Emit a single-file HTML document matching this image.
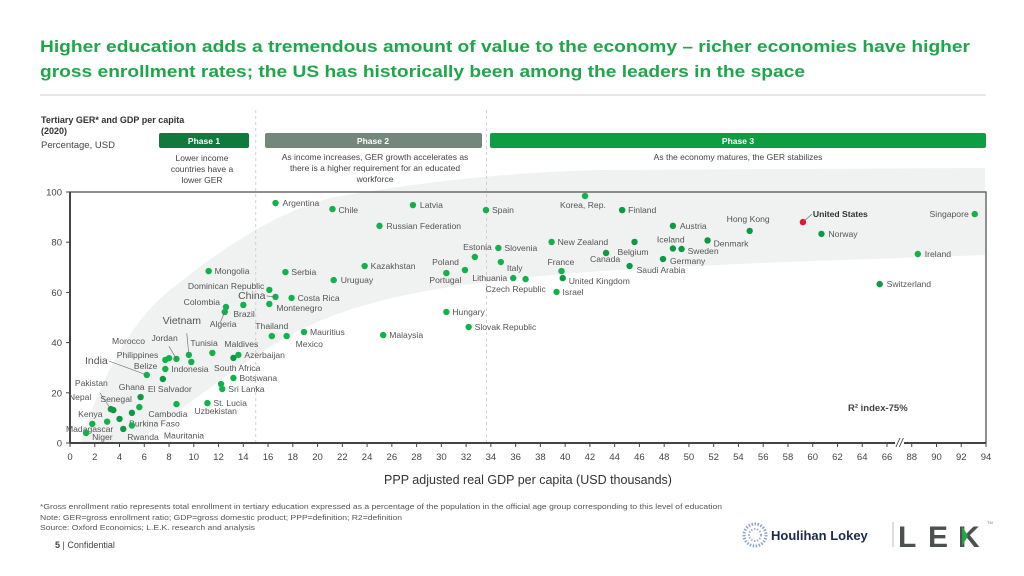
<!DOCTYPE html>
<html><head><meta charset="utf-8">
<style>
html,body{margin:0;padding:0;background:#fff;}
svg{display:block;font-family:"Liberation Sans",Arial,sans-serif;}
</style></head>
<body>
<svg id="chart" width="1024" height="576" viewBox="0 0 1024 576" xmlns="http://www.w3.org/2000/svg">
  <text x="40" y="52" font-size="16.5" font-weight="bold" fill="#1ea64b" textLength="930" lengthAdjust="spacingAndGlyphs">Higher education adds a tremendous amount of value to the economy – richer economies have higher</text>
  <text x="40" y="77" font-size="16.5" font-weight="bold" fill="#1ea64b" textLength="765" lengthAdjust="spacingAndGlyphs">gross enrollment rates; the US has historically been among the leaders in the space</text>
  <line x1="40" y1="95" x2="986" y2="95" stroke="#cfcfcf" stroke-width="1"/>

  <text x="41" y="123" font-size="9" font-weight="bold" fill="#333">Tertiary GER* and GDP per capita</text>
  <text x="41" y="134" font-size="9" font-weight="bold" fill="#333">(2020)</text>
  <text x="41" y="148" font-size="9.5" fill="#444">Percentage, USD</text>

  <g>
    <rect x="159" y="133" width="90" height="15" rx="2" fill="#0e7a3c"/>
    <text x="204" y="144" font-size="8.5" font-weight="bold" fill="#fff" text-anchor="middle">Phase 1</text>
  </g>
  <g>
    <rect x="265" y="133" width="217" height="15" rx="2" fill="#74877b"/>
    <text x="373" y="144" font-size="8.5" font-weight="bold" fill="#fff" text-anchor="middle">Phase 2</text>
  </g>
  <g>
    <rect x="490" y="133" width="496" height="15" rx="2" fill="#0f9d43"/>
    <text x="738" y="144" font-size="8.5" font-weight="bold" fill="#fff" text-anchor="middle">Phase 3</text>
  </g>
  <g font-size="8.5" fill="#444" text-anchor="middle">
    <text x="202" y="161">Lower income</text>
    <text x="202" y="172">countries have a</text>
    <text x="202" y="183">lower GER</text>
    <text x="375" y="160">As income increases, GER growth accelerates as</text>
    <text x="375" y="171">there is a higher requirement for an educated</text>
    <text x="375" y="182">workforce</text>
    <text x="738" y="160">As the economy matures, the GER stabilizes</text>
  </g>

  <path d="M80,443 C95,400 120,330 170,290 C220,250 270,215 330,198 C430,180 520,172 600,170 L985,168 L985,255 C800,262 650,265 520,278 C430,288 360,300 300,330 C240,360 170,420 135,443 Z" fill="#f0f1f1"/>

  <line x1="255.7" y1="110" x2="255.7" y2="443" stroke="#cfd3d3" stroke-dasharray="3,3"/>
  <line x1="486.5" y1="110" x2="486.5" y2="443" stroke="#cfd3d3" stroke-dasharray="3,3"/>

  <g id="axes"></g>
  <g id="marks"></g>

  <text x="848" y="411" font-size="9.5" font-weight="bold" fill="#444">R² index-75%</text>
  <text x="528" y="484" font-size="12.5" fill="#333" text-anchor="middle">PPP adjusted real GDP per capita (USD thousands)</text>

  <g font-size="7.5" fill="#555">
    <text x="40" y="509" textLength="682" lengthAdjust="spacingAndGlyphs">*Gross enrollment ratio represents total enrollment in tertiary education expressed as a percentage of the population in the official age group corresponding to this level of education</text>
    <text x="40" y="520" textLength="362" lengthAdjust="spacingAndGlyphs">Note: GER=gross enrollment ratio; GDP=gross domestic product; PPP=definition; R2=definition</text>
    <text x="40" y="530" textLength="215" lengthAdjust="spacingAndGlyphs">Source: Oxford Economics; L.E.K. research and analysis</text>
  </g>
  <text x="55" y="548" font-size="9" fill="#444"><tspan font-weight="bold">5</tspan> | Confidential</text>

  <g>
    <circle cx="755" cy="535" r="11" fill="none" stroke="#8ea4c8" stroke-width="3" stroke-dasharray="1.5,1.5"/>
    <circle cx="755" cy="535" r="6" fill="none" stroke="#9fb2d2" stroke-width="2" stroke-dasharray="1.5,1.5"/>
    <text x="771" y="540" font-size="13" font-weight="bold" fill="#1b2a4a">Houlihan Lokey</text>
  </g>
  <line x1="893" y1="522" x2="893" y2="547" stroke="#bbb"/>
  <g>
    <text x="898" y="547" font-size="30" font-weight="bold" fill="#4d5050">L</text>
    <text x="928" y="547" font-size="30" font-weight="bold" fill="#4d5050">E</text>
    <text x="958" y="547" font-size="30" font-weight="bold" fill="#4d5050">K</text>
    <polygon points="962,526 968,536 962,546" fill="#1fa64b"/>
    <text x="987" y="524" font-size="4" fill="#777">TM</text>
  </g>
</svg>
<script>
const xTicks = [0,2,4,6,8,10,12,14,16,18,20,22,24,26,28,30,32,34,36,38,40,42,44,46,48,50,52,54,56,58,60,62,64,66,88,90,92,94];
const yTicks = [0,20,40,60,80,100];
const countries = ["Argentina","Chile","Latvia","Spain","Russian Federation","Korea, Rep.","Finland","Austria","Hong Kong","United States","Norway","Singapore","Ireland","Switzerland","Iceland","Sweden","Denmark","Germany","Belgium","Canada","Saudi Arabia","France","United Kingdom","Israel","New Zealand","Slovenia","Estonia","Italy","Poland","Portugal","Lithuania","Czech Republic","Kazakhstan","Hungary","Slovak Republic","Malaysia","Uruguay","Mongolia","Serbia","Dominican Republic","China","Costa Rica","Montenegro","Colombia","Brazil","Algeria","Thailand","Mexico","Mauritius","Vietnam","Tunisia","Maldives","Azerbaijan","Jordan","Morocco","Philippines","Indonesia","Belize","El Salvador","India","South Africa","Botswana","Sri Lanka","Ghana","St. Lucia","Uzbekistan","Cambodia","Senegal","Pakistan","Nepal","Kenya","Burkina Faso","Madagascar","Niger","Rwanda","Mauritania"];
const gdp = [16.6,21.2,27.7,33.6,25.0,41.6,44.6,48.7,54.9,59.2,60.7,93.1,88.5,65.4,48.7,49.4,51.5,47.9,45.6,43.3,45.2,39.7,39.8,39.3,38.9,34.6,32.7,34.8,31.9,30.4,35.8,36.8,23.8,30.4,32.2,25.3,21.3,11.2,17.4,16.1,16.6,17.9,16.1,12.6,14.0,12.5,16.3,17.5,18.9,9.6,11.5,13.2,13.6,8.6,8.0,7.7,9.8,7.7,7.5,6.2,12.2,13.2,12.3,5.7,11.1,8.6,5.6,5.0,3.3,3.5,4.0,3.0,1.8,1.3,4.3,5.0];
const ger = [95.6,93.2,94.8,92.8,86.5,98.4,92.8,86.5,84.5,88.0,83.3,91.2,75.3,63.3,77.5,77.3,80.7,73.3,80.1,75.7,70.5,68.5,65.7,60.2,80.1,77.7,74.1,72.1,68.9,67.7,65.7,65.3,70.5,52.2,46.2,43.0,64.9,68.5,68.1,61.0,58.2,57.8,55.4,54.2,55.0,52.2,42.6,42.6,44.2,35.1,35.9,33.9,35.1,33.5,33.8,33.1,32.3,29.5,25.5,27.1,23.5,25.9,21.5,18.3,15.9,15.5,14.3,12.0,13.5,13.1,9.6,8.5,7.6,4.0,5.6,7.0];
// label styling (offsets in px from the dot, anchor)
const labelDx = [7,6,7,6,7,-25,6,7,-23,10,7,-6,7,7,-16,6,6,7,-17,-16,7,-14,6,6,6,6,17,6,-6,-17,-6,-40,6,6,6,6,7,6,6,-5,-10,6,7,-6,-10,-15,0,9,6,-7,-22,-9,6,-25,-57,-7,-20,-8,-15,-39,-7,6,6,4,6,18,9,0,-36,-22,-17,22,21,6,4,32];
const labelDy = [3,4,3,3,3,12,3,3,-9,-5,3,3,3,3,-6,5,6,5,13,9,7,-6,6,3,3,3,-7,9,-5,10,3,13,3,3,3,3,3,3,3,-1,2,3,7,-2,12,15,-7,11,3,-31,-7,-11,3,-18,-14,-2,10,0,13,-11,-13,3,3,-7,3,10,10,-11,-23,-10,-2,5,8,7,11,13];
const labelAnchor = ["s","s","s","s","s","s","s","s","s","s","s","e","s","s","s","s","s","s","s","s","s","s","s","s","s","s","e","s","e","s","e","s","s","s","s","s","s","s","s","e","e","s","s","e","s","s","m","s","s","m","s","s","s","s","s","e","s","e","s","e","s","s","s","e","s","s","s","e","s","e","e","s","e","s","s","s"];
const darkDots = ["Finland","Austria","Iceland","Sweden","Denmark","Hong Kong","Norway","Belgium","Canada","Germany","Saudi Arabia","United Kingdom","Switzerland","Ghana","El Salvador","Senegal","Pakistan","Nepal","Kenya","Rwanda","Maldives"];

function X(v){ return v <= 67 ? 70 + v*12.38 : 911.6 + (v-88)*12.38; }
function Y(v){ return 443 - v*2.51; }
const NS = "http://www.w3.org/2000/svg";
function mk(tag, attrs, parent){ const e=document.createElementNS(NS,tag); for(const k in attrs) e.setAttribute(k,attrs[k]); parent.appendChild(e); return e; }

const axes = document.getElementById('axes');
const frame = mk('rect',{x:70,y:192,width:916,height:251,fill:'none',stroke:'#555','stroke-width':1.3},axes);


const xAxis = mk('line',{x1:70,y1:443,x2:986,y2:443,stroke:'#444','stroke-width':2},axes);


const yAxis = mk('line',{x1:70,y1:192,x2:70,y2:443,stroke:'#444','stroke-width':2},axes);


xTicks.forEach((t,i)=>{
  const px = 70 + i*24.757;
  const tk = mk('line',{x1:px,y1:443,x2:px,y2:447,stroke:'#444'},axes);
  
  
  const lb = mk('text',{x:px,y:460,'font-size':9.5,fill:'#444','text-anchor':'middle'},axes);
  lb.textContent = t;
  
  
});
const brk = mk('rect',{x:895,y:436,width:9,height:12,fill:'#fff'},axes);


const brk2 = mk('text',{x:899.5,y:447,'font-size':12,fill:'#444','text-anchor':'middle','font-style':'italic'},axes);
brk2.textContent='//';


yTicks.forEach(t=>{
  const py = Y(t);
  const tk = mk('line',{x1:66,y1:py,x2:70,y2:py,stroke:'#444'},axes);
  
  
  const lb = mk('text',{x:62,y:py+3.5,'font-size':9.5,fill:'#444','text-anchor':'end'},axes);
  lb.textContent = t;
  
  
});

const marks = document.getElementById('marks');
countries.forEach((c,i)=>{
  const cx = X(gdp[i]), cy = Y(ger[i]);
  const isUS = c === "United States";
  const g = mk('g',{},marks);
  
  
  const fill = isUS ? '#e8132d' : (darkDots.includes(c) ? '#0a9a45' : '#12b14c');
  mk('circle',{cx:cx,cy:cy,r:3.2,fill:fill},g);
  const a = labelAnchor[i]==='e'?'end':(labelAnchor[i]==='m'?'middle':'start');
  const big = (c==="China"||c==="India"||c==="Vietnam");
  const t = mk('text',{x:cx+labelDx[i],y:cy+labelDy[i],'font-size':big?10.5:8.6,fill:isUS?'#333':'#555','text-anchor':a,'font-weight':isUS?'bold':'normal'},g);
  t.textContent = c;
  if (Math.abs(labelDx[i])>20 || Math.abs(labelDy[i])>12 || c==="China" || isUS){
    const ly = cy+labelDy[i]-3;
    const lx = a==='end'? cx+labelDx[i]+1 : (a==='middle'? cx+labelDx[i] : cx+labelDx[i]-1);
    if (Math.abs(labelDy[i])>14) mk('line',{x1:cx,y1:cy,x2:cx+labelDx[i]*0.3,y2:cy+labelDy[i]*0.7,stroke:'#666','stroke-width':0.6},g);
    else if (c==="China"||c==="India"||isUS) mk('line',{x1:cx,y1:cy,x2:lx,y2:ly,stroke:'#666','stroke-width':0.6},g);
  }
});
</script>
</body></html>
